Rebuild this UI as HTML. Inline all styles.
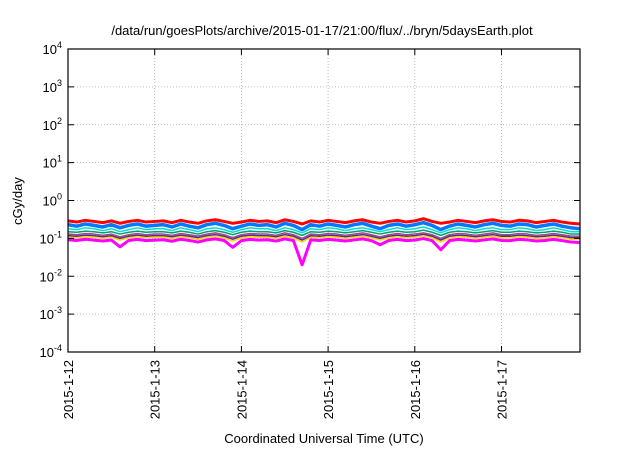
<!DOCTYPE html>
<html><head><meta charset="utf-8"><style>
body{margin:0;background:#fff;}
svg text{font-family:"Liberation Sans",sans-serif;fill:#000;}
</style></head><body>
<svg id="chart" width="640" height="448" viewBox="0 0 640 448" xmlns="http://www.w3.org/2000/svg">
<text x="322" y="35" font-size="13" text-anchor="middle">/data/run/goesPlots/archive/2015-01-17/21:00/flux/../bryn/5daysEarth.plot</text>
<g id="grid"></g>
<g id="series"></g>
<rect x="68" y="49" width="512" height="303" fill="none" stroke="#000" stroke-width="1.2"/>
<g id="axes"></g>
<text transform="translate(22,201) rotate(-90)" font-size="13" text-anchor="middle">cGy/day</text>
<text x="324" y="443" font-size="13" text-anchor="middle">Coordinated Universal Time (UTC)</text>
</svg>
<script>
const xTickLabels=["2015-1-12","2015-1-13","2015-1-14","2015-1-15","2015-1-16","2015-1-17"];
const yExps=[-4,-3,-2,-1,0,1,2,3,4];
const sampleStepDays=0.1;
const red=[0.29,0.27,0.30,0.28,0.26,0.29,0.25,0.28,0.30,0.27,0.28,0.29,0.26,0.30,0.27,0.25,0.29,0.31,0.28,0.25,0.27,0.30,0.28,0.29,0.26,0.31,0.28,0.24,0.29,0.27,0.30,0.28,0.26,0.29,0.31,0.27,0.25,0.28,0.30,0.27,0.29,0.33,0.28,0.25,0.27,0.30,0.28,0.26,0.29,0.31,0.28,0.27,0.30,0.29,0.26,0.28,0.30,0.27,0.25,0.24];
const blue=[0.23,0.21,0.24,0.22,0.20,0.23,0.19,0.22,0.24,0.21,0.22,0.23,0.20,0.24,0.21,0.19,0.23,0.25,0.22,0.18,0.21,0.24,0.22,0.23,0.20,0.25,0.22,0.17,0.23,0.21,0.24,0.22,0.20,0.23,0.25,0.21,0.18,0.22,0.24,0.21,0.23,0.26,0.22,0.17,0.21,0.24,0.22,0.20,0.23,0.25,0.22,0.21,0.24,0.23,0.20,0.22,0.24,0.21,0.19,0.18];
const cyan=[0.18,0.17,0.19,0.18,0.16,0.18,0.15,0.17,0.19,0.17,0.18,0.18,0.16,0.19,0.17,0.15,0.18,0.19,0.17,0.145,0.17,0.19,0.18,0.18,0.16,0.19,0.17,0.14,0.18,0.17,0.19,0.18,0.16,0.18,0.19,0.17,0.15,0.17,0.19,0.17,0.18,0.20,0.17,0.14,0.17,0.19,0.18,0.16,0.18,0.19,0.17,0.17,0.19,0.18,0.16,0.17,0.19,0.17,0.15,0.15];
const green=[0.15,0.145,0.155,0.15,0.14,0.15,0.13,0.145,0.155,0.145,0.15,0.15,0.14,0.155,0.145,0.13,0.15,0.16,0.145,0.125,0.145,0.155,0.15,0.15,0.14,0.16,0.145,0.12,0.15,0.145,0.155,0.15,0.14,0.15,0.16,0.145,0.13,0.145,0.155,0.145,0.15,0.165,0.145,0.12,0.145,0.155,0.15,0.14,0.15,0.16,0.145,0.145,0.155,0.15,0.14,0.145,0.155,0.145,0.13,0.13];
const purple=[0.13,0.125,0.135,0.13,0.12,0.13,0.11,0.125,0.135,0.125,0.13,0.13,0.12,0.135,0.125,0.115,0.13,0.14,0.125,0.105,0.125,0.135,0.13,0.13,0.12,0.14,0.125,0.10,0.13,0.125,0.135,0.13,0.12,0.13,0.14,0.125,0.11,0.125,0.135,0.125,0.13,0.14,0.125,0.10,0.125,0.135,0.13,0.12,0.13,0.14,0.125,0.125,0.135,0.13,0.12,0.125,0.135,0.125,0.115,0.115];
const navy=[0.118,0.114,0.122,0.118,0.11,0.118,0.1,0.114,0.122,0.114,0.118,0.118,0.11,0.122,0.114,0.105,0.118,0.126,0.114,0.095,0.114,0.122,0.118,0.118,0.11,0.126,0.114,0.09,0.118,0.114,0.122,0.118,0.11,0.118,0.126,0.114,0.1,0.114,0.122,0.114,0.118,0.128,0.114,0.09,0.114,0.122,0.118,0.11,0.118,0.126,0.114,0.114,0.122,0.118,0.11,0.114,0.122,0.114,0.105,0.105];
const yellow=[0.107,0.103,0.11,0.107,0.1,0.107,0.09,0.103,0.11,0.103,0.107,0.107,0.1,0.11,0.103,0.095,0.107,0.114,0.103,0.085,0.103,0.11,0.107,0.107,0.1,0.114,0.103,0.08,0.107,0.103,0.11,0.107,0.1,0.107,0.114,0.103,0.09,0.103,0.11,0.103,0.107,0.116,0.103,0.08,0.103,0.11,0.107,0.1,0.107,0.114,0.103,0.103,0.11,0.107,0.1,0.103,0.11,0.103,0.095,0.095];
const magenta=[0.092,0.088,0.095,0.09,0.085,0.09,0.06,0.088,0.094,0.087,0.09,0.092,0.084,0.095,0.088,0.08,0.091,0.097,0.088,0.058,0.087,0.094,0.09,0.092,0.085,0.097,0.088,0.02,0.091,0.088,0.094,0.09,0.085,0.091,0.097,0.087,0.068,0.088,0.094,0.087,0.09,0.099,0.087,0.05,0.087,0.094,0.09,0.085,0.091,0.097,0.088,0.087,0.094,0.091,0.085,0.088,0.094,0.087,0.08,0.078];
const seriesList=[["magenta-series",magenta,"#ff00ff",3],["yellow-series",yellow,"#ffd700",1.5],["navy-series",navy,"#5a2a8a",1.5],["purple-series",purple,"#9a4a8a",1.5],["green-series",green,"#00a070",1.5],["cyan-series",cyan,"#00e0d0",1.5],["red-series",red,"#ff0000",3],["blue-series",blue,"#0078ff",3.5]];
const L=68,R=580,T=49,B=352,dayPx=86.7;
const NS="http://www.w3.org/2000/svg";
function xs(d){return L+d*dayPx;}
function ys(v){return B-(Math.log10(v)+4)*(B-T)/8;}
function mk(tag,attrs,parent){const e=document.createElementNS(NS,tag);for(const k in attrs)e.setAttribute(k,attrs[k]);parent.appendChild(e);return e;}
const grid=document.getElementById('grid'),axes=document.getElementById('axes'),ser=document.getElementById('series');
yExps.forEach(p=>{const y=ys(Math.pow(10,p));
 if(p>-4&&p<4){const g=mk('line',{x1:L,x2:R,y1:y,y2:y,stroke:'#aaa','stroke-dasharray':'1,2','stroke-width':0.8},grid);}
 const t1=mk('line',{x1:L,x2:L+6,y1:y,y2:y,stroke:'#000'},axes);
 const t2=mk('line',{x1:R-6,x2:R,y1:y,y2:y,stroke:'#000'},axes);
 const tx=mk('text',{x:L-6,y:y+5,'font-size':13,'text-anchor':'end'},axes);
 tx.innerHTML='10<tspan dy="-6" font-size="9">'+p+'</tspan>';
});
xTickLabels.forEach((lab,i)=>{const x=xs(i);
 if(i>0){const g=mk('line',{x1:x,x2:x,y1:T,y2:B,stroke:'#aaa','stroke-dasharray':'1,2','stroke-width':0.8},grid);}
 const t1=mk('line',{x1:x,x2:x,y1:B,y2:B-6,stroke:'#000'},axes);
 const t2=mk('line',{x1:x,x2:x,y1:T,y2:T+6,stroke:'#000'},axes);
 const tx=mk('text',{transform:'translate('+(x+5)+','+(B+8)+') rotate(-90)','font-size':13,'text-anchor':'end'},axes);
 tx.textContent=lab;
});
seriesList.forEach(s=>{const pts=s[1].map((v,i)=>xs(i*sampleStepDays)+','+ys(v)).join(' ');
 const p=mk('polyline',{points:pts,fill:'none',stroke:s[2],'stroke-width':s[3],'stroke-linejoin':'round'},ser);
 
});
</script>
</body></html>
